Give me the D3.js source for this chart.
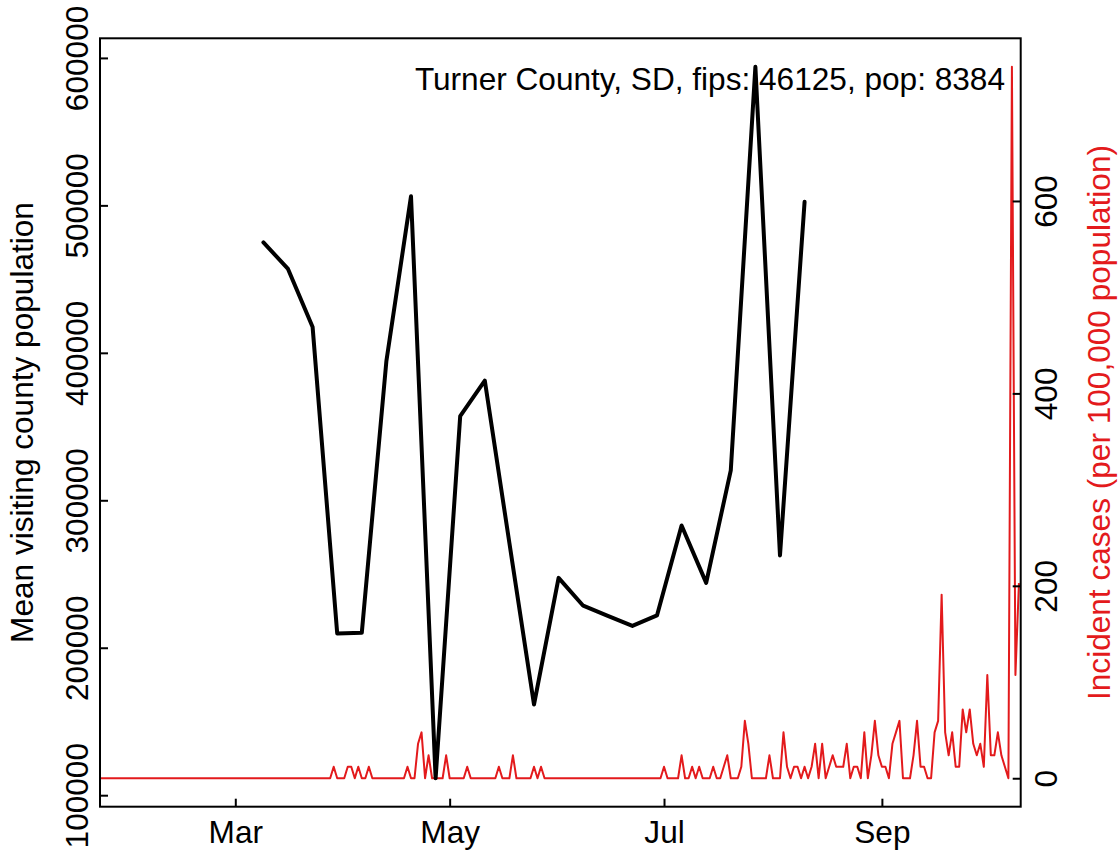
<!DOCTYPE html>
<html><head><meta charset="utf-8">
<script src="https://cdn.jsdelivr.net/npm/d3@7"></script>
<style>
body{margin:0;background:#fff}
svg{display:block}
text{font-family:"Liberation Sans",Arial,Helvetica,sans-serif}
</style>
</head><body>
<svg id="chart" width="1119" height="850"></svg>
<script>
// ---------------- data ----------------
const titleText = "Turner County, SD, fips: 46125, pop: 8384";
const leftAxisTitle = "Mean visiting county population";
const rightAxisTitle = "Incident cases (per 100,000 population)";

const monthTickDates = ["2020-03-01", "2020-05-01", "2020-07-01", "2020-09-01"];
const monthTickLabels = ["Mar", "May", "Jul", "Sep"];
const leftTickValues = [100000, 200000, 300000, 400000, 500000, 600000];
const rightTickValues = [0, 200, 400, 600];

// weekly mean visiting county population, weeks starting 2020-03-09
const mobilityWeeks = ["2020-03-09","2020-03-16","2020-03-23","2020-03-30","2020-04-06","2020-04-13",
  "2020-04-20","2020-04-27","2020-05-04","2020-05-11","2020-05-18","2020-05-25","2020-06-01",
  "2020-06-08","2020-06-15","2020-06-22","2020-06-29","2020-07-06","2020-07-13","2020-07-20",
  "2020-07-27","2020-08-03","2020-08-10"];
const mobilityValues = [474900, 456900, 417500, 209700, 210200, 394500,
  506200, 111500, 357100, 381200, 271000, 161500, 247400,
  228500, 221600, 214800, 221900, 282900, 244000, 320300,
  594000, 262600, 502400];

// daily incident cases per 100,000, starting 2020-01-22
const casesStartDate = "2020-01-22";
const casesValues = [
  0,0,0,0,0,0,0,0,0,0,
  0,0,0,0,0,0,0,0,0,0,
  0,0,0,0,0,0,0,0,0,0,
  0,0,0,0,0,0,0,0,0,0,
  0,0,0,0,0,0,0,0,0,0,
  0,0,0,0,0,0,0,0,0,0,
  0,0,0,0,0,0,0,11.93,0,0,
  0,11.93,11.93,0,11.93,0,0,11.93,0,0,
  0,0,0,0,0,0,0,0,11.93,0,
  0,35.78,47.71,0,23.85,0,0,0,0,23.85,
  0,0,0,0,0,11.93,0,0,0,0,
  0,0,0,0,11.93,0,0,0,23.85,0,
  0,0,0,0,11.93,0,11.93,0,0,0,
  0,0,0,0,0,0,0,0,0,0,
  0,0,0,0,0,0,0,0,0,0,
  0,0,0,0,0,0,0,0,0,0,
  0,11.93,0,0,0,0,23.85,0,0,11.93,
  0,11.93,0,0,0,11.93,0,0,11.93,23.85,
  0,0,0,11.93,59.64,35.78,0,0,0,0,
  0,23.85,0,0,0,47.71,11.93,0,11.93,11.93,
  0,11.93,0,11.93,35.78,0,35.78,0,11.93,23.85,
  11.93,11.93,11.93,35.78,0,11.93,11.93,0,47.71,0,
  23.85,59.64,23.85,11.93,11.93,0,35.78,47.71,59.64,0,
  0,0,23.85,59.64,11.93,11.93,0,0,47.71,59.64,
  190.84,47.71,23.85,47.71,11.93,11.93,71.56,47.71,71.56,35.78,
  23.85,35.78,11.93,107.35,23.85,23.85,47.71,23.85,11.93,0,
  739.50,107.35,202.77
];

// ---------------- layout ----------------
const W = 1119, H = 850;
const PL = 100, PR = 1020.7, PT = 38.3, PB = 806.7;
const FONT = 31.6;
const parse = d3.utcParse("%Y-%m-%d");

const mobility = mobilityWeeks.map((d, i) => ({date: parse(d), value: mobilityValues[i]}));
const start = parse(casesStartDate);
const cases = casesValues.map((v, i) => ({date: d3.utcDay.offset(start, i), value: v}));

const svg = d3.select("#chart");
svg.append("rect").attr("width", W).attr("height", H).attr("fill", "#fff");

const x = d3.scaleUtc()
  .domain([d3.utcHour.offset(cases[0].date, 12), d3.utcHour.offset(cases[cases.length - 1].date, 12)])
  .range([PL, PR]);

function padded(ext) { const r = ext[1] - ext[0]; return [ext[0] - 0.04 * r, ext[1] + 0.04 * r]; }
const yL = d3.scaleLinear().domain(padded(d3.extent(mobilityValues))).range([PB, PT]);
const yR = d3.scaleLinear().domain(padded(d3.extent(casesValues))).range([PB, PT]);

svg.append("defs").append("clipPath").attr("id", "clip")
  .append("rect").attr("x", PL).attr("y", PT).attr("width", PR - PL).attr("height", PB - PT);

// red incident cases line
svg.append("path")
  .datum(cases)
  .attr("clip-path", "url(#clip)")
  .attr("fill", "none")
  .attr("stroke", "#e31a1c")
  .attr("stroke-width", 2)
  .attr("stroke-linejoin", "round")
  .attr("d", d3.line().x(d => x(d.date)).y(d => yR(d.value)));

// black mobility line
svg.append("path")
  .datum(mobility)
  .attr("fill", "none")
  .attr("stroke", "#000")
  .attr("stroke-width", 4)
  .attr("stroke-linejoin", "round")
  .attr("stroke-linecap", "round")
  .attr("d", d3.line().x(d => x(d.date)).y(d => yL(d.value)));

// box
svg.append("rect").attr("x", PL).attr("y", PT).attr("width", PR - PL).attr("height", PB - PT)
  .attr("fill", "none").attr("stroke", "#000").attr("stroke-width", 2);

// bottom axis
const gx = svg.append("g").attr("transform", `translate(0,${PB})`)
  .call(d3.axisBottom(x).tickValues(monthTickDates.map(parse))
    .tickFormat((d, i) => monthTickLabels[i]).tickSize(-8).tickSizeOuter(0));
gx.select(".domain").remove();
gx.selectAll(".tick line").attr("stroke", "#000").attr("stroke-width", 2);
gx.selectAll(".tick text").attr("y", 36.5).attr("dy", null)
  .attr("font-size", FONT).attr("fill", "#000").attr("font-family", null);

// left axis
const gl = svg.append("g").attr("transform", `translate(${PL},0)`)
  .call(d3.axisLeft(yL).tickValues(leftTickValues).tickFormat(d3.format("d")).tickSize(-8).tickSizeOuter(0));
gl.select(".domain").remove();
gl.selectAll(".tick line").attr("stroke", "#000").attr("stroke-width", 2);
gl.selectAll(".tick text").attr("x", null).attr("dy", null)
  .attr("transform", "translate(-12,0) rotate(-90)")
  .attr("text-anchor", "middle")
  .attr("font-size", FONT).attr("fill", "#000").attr("font-family", null);

// right axis
const gr = svg.append("g").attr("transform", `translate(${PR},0)`)
  .call(d3.axisRight(yR).tickValues(rightTickValues).tickFormat(d3.format("d")).tickSize(-8).tickSizeOuter(0));
gr.select(".domain").remove();
gr.selectAll(".tick line").attr("stroke", "#000").attr("stroke-width", 2);
gr.selectAll(".tick text").attr("x", null).attr("dy", null)
  .attr("transform", "translate(36.5,0) rotate(-90)")
  .attr("text-anchor", "middle")
  .attr("font-size", FONT).attr("fill", "#000").attr("font-family", null);

// axis titles
const midY = (PT + PB) / 2;
svg.append("text")
  .attr("transform", `translate(33,${midY}) rotate(-90)`)
  .attr("text-anchor", "middle").attr("font-size", FONT).attr("fill", "#000")
  .text(leftAxisTitle);
svg.append("text")
  .attr("transform", `translate(1110,${midY}) rotate(-90)`)
  .attr("text-anchor", "middle").attr("font-size", FONT).attr("fill", "#e31a1c")
  .text(rightAxisTitle);

// title / legend text
svg.append("text")
  .attr("x", 1005).attr("y", 90)
  .attr("text-anchor", "end").attr("font-size", FONT).attr("fill", "#000")
  .text(titleText);
</script>
</body></html>
